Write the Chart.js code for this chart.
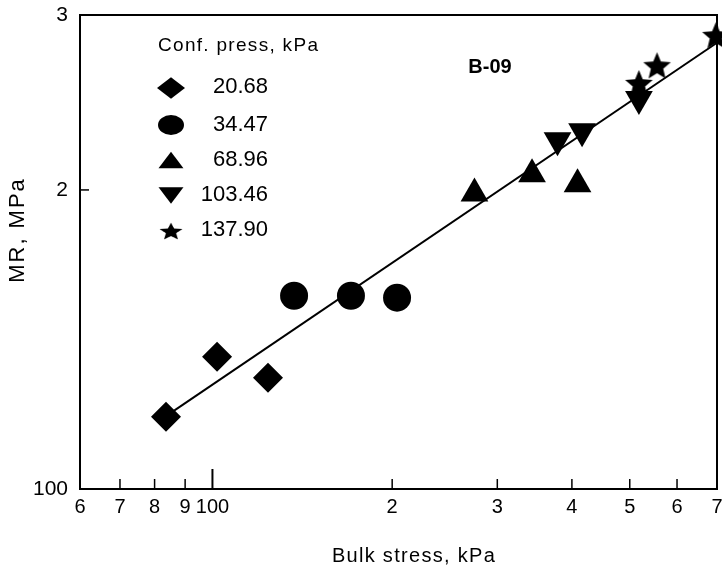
<!DOCTYPE html>
<html>
<head>
<meta charset="utf-8">
<title>MR vs bulk stress, B-09</title>
<script src="https://cdn.jsdelivr.net/npm/chart.js@4.4.1/dist/chart.umd.min.js"></script>
<style>
  html, body { margin: 0; padding: 0; background: #fff; }
  #wrap { width: 722px; height: 565px; }
</style>
</head>
<body>
<div id="wrap"><canvas id="mrChart" width="722" height="565"></canvas></div>
<script>
// confining pressure groups, kPa
var confPressures = ['20.68', '34.47', '68.96', '103.46', '137.90'];

// bulk stress (kPa) and resilient modulus (MPa) for each group
var bulk1 = [83.6, 101.8, 123.9];
var mr1 = [118.2, 135.9, 129.4];
var bulk2 = [137.0, 170.6, 203.8];
var mr2 = [156.5, 156.5, 155.8];
var bulk3 = [274.7, 343.0, 408.8];
var mr3 = [198.4, 207.4, 202.6];
var bulk4 = [378.4, 416.0, 518.0];
var mr4 = [224.4, 229.2, 246.9];
var bulk5 = [518.0, 555.5, 697.0];
var mr5 = [255.4, 266.1, 285.4];

// power-law fit, end points
var fitBulk = [83.6, 700];
var fitMR = [118.4, 281.3];

// axis ticks and their printed labels
var xTicks = [60, 70, 80, 90, 100, 200, 300, 400, 500, 600, 700];
var xTickLabels = ['6', '7', '8', '9', '100', '2', '3', '4', '5', '6', '7'];
var yTicks = [100, 200, 300];
var yTickLabels = ['100', '2', '3'];

function pts(xs, ys) {
  return xs.map(function (v, i) { return { x: v, y: ys[i] }; });
}

// filled five-point star used as a point image
function makeStar(R, inner) {
  var c = document.createElement('canvas');
  var s = Math.ceil(R * 2) + 2;
  c.width = s; c.height = s;
  var g = c.getContext('2d');
  g.fillStyle = '#000';
  g.beginPath();
  for (var i = 0; i < 10; i++) {
    var r = i % 2 ? inner : R;
    var a = -Math.PI / 2 + i * Math.PI / 5;
    g.lineTo(s / 2 + r * Math.cos(a), s / 2 + r * Math.sin(a));
  }
  g.closePath();
  g.fill();
  return c;
}
var star = makeStar(14.5, 6.5);

var FONT = '"Liberation Sans", Arial, sans-serif';

var markers = [
  { style: 'rectRot', radius: 15, rotation: 0, legendR: 14, dy: 0 },
  { style: 'circle', radius: 14, rotation: 0, legendR: 13, dy: 0 },
  { style: 'triangle', radius: 16, rotation: 0, legendR: 14.4, dy: 2.8 },
  { style: 'triangle', radius: 16, rotation: 180, legendR: 14.4, dy: -2.8 },
  { style: star, radius: 14.5, rotation: 0, legendR: 12, dy: 0.9 }
];
var groups = [pts(bulk1, mr1), pts(bulk2, mr2), pts(bulk3, mr3), pts(bulk4, mr4), pts(bulk5, mr5)];

var datasets = groups.map(function (g, i) {
  var m = markers[i];
  return {
    label: confPressures[i],
    data: g,
    pointStyle: m.style,
    radius: m.radius,
    rotation: m.rotation,
    backgroundColor: '#000',
    borderColor: '#000',
    borderWidth: 0,
    showLine: false,
    clip: false
  };
});
datasets.push({
  label: 'fit',
  data: pts(fitBulk, fitMR),
  showLine: true,
  borderColor: '#000',
  borderWidth: 2,
  pointRadius: 0,
  clip: false
});

function text(ctx, str, x, y, font, align, spacing) {
  ctx.font = font;
  ctx.textAlign = align;
  ctx.textBaseline = 'middle';
  ctx.letterSpacing = (spacing || 0) + 'px';
  ctx.fillText(str, x, y);
  ctx.letterSpacing = '0px';
}

// frame, inward tick marks, legend and titles
var decorations = {
  id: 'decorations',
  afterDraw: function (chart) {
    var ctx = chart.ctx;
    var a = chart.chartArea;
    var xs = chart.scales.x;
    var ys = chart.scales.y;
    ctx.save();
    ctx.strokeStyle = '#000';
    ctx.fillStyle = '#000';
    ctx.lineWidth = 2;
    ctx.strokeRect(a.left, a.top, a.right - a.left, a.bottom - a.top);

    xTicks.forEach(function (v, i) {
      if (i === 0 || i === xTicks.length - 1) return;
      var px = xs.getPixelForValue(v);
      ctx.lineWidth = v === 100 ? 2 : 1.5;
      ctx.beginPath();
      ctx.moveTo(px, a.bottom);
      ctx.lineTo(px, a.bottom - (v === 100 ? 20 : 10));
      ctx.stroke();
    });
    var py = ys.getPixelForValue(200);
    ctx.lineWidth = 1.5;
    ctx.beginPath();
    ctx.moveTo(a.left, py);
    ctx.lineTo(a.left + 9, py);
    ctx.stroke();

    // legend
    text(ctx, 'Conf. press, kPa', 158, 46, '19px ' + FONT, 'left', 1.3);
    var rows = [88, 125, 160, 195.5, 231];
    var labelY = [87, 125, 160, 195, 230];
    markers.forEach(function (m, i) {
      ctx.save();
      ctx.translate(171, rows[i] + m.dy);
      if (m.style === star) {
        ctx.scale(m.legendR / m.radius, 0.77 * m.legendR / m.radius);
      } else {
        ctx.scale(1, 0.77);
      }
      Chart.helpers.drawPoint(ctx, {
        pointStyle: m.style, radius: m.legendR, rotation: m.rotation, borderWidth: 0
      }, 0, 0);
      ctx.restore();
      text(ctx, confPressures[i], 268, labelY[i], '22px ' + FONT, 'right', 0);
    });

    text(ctx, 'B-09', 490, 67, 'bold 20px ' + FONT, 'center', 0);

    // axis titles
    text(ctx, 'Bulk stress, kPa', 414, 556, '20px ' + FONT, 'center', 1.3);
    ctx.save();
    ctx.translate(18, 230);
    ctx.rotate(-Math.PI / 2);
    text(ctx, 'MR, MPa', 0, 0, '22px ' + FONT, 'center', 2);
    ctx.restore();
    ctx.restore();
  }
};

new Chart(document.getElementById('mrChart'), {
  type: 'scatter',
  data: { datasets: datasets },
  options: {
    responsive: false,
    animation: false,
    layout: { autoPadding: false, padding: { top: 15, right: 5, left: 0, bottom: 0 } },
    plugins: {
      legend: { display: false },
      tooltip: { enabled: false }
    },
    scales: {
      x: {
        type: 'logarithmic',
        min: 60,
        max: 700,
        afterBuildTicks: function (s) {
          s.ticks = xTicks.map(function (v) { return { value: v }; });
        },
        afterFit: function (s) {
          s.height = 76;
          s.paddingLeft = 0;
          s.paddingRight = 0;
        },
        grid: { display: false, drawTicks: false },
        border: { display: false },
        ticks: {
          autoSkip: false,
          maxRotation: 0,
          minRotation: 0,
          padding: 6,
          color: '#000',
          font: { family: FONT, size: 20 },
          callback: function (v, i) { return xTickLabels[i]; }
        }
      },
      y: {
        type: 'logarithmic',
        min: 100,
        max: 300,
        afterBuildTicks: function (s) {
          s.ticks = yTicks.map(function (v) { return { value: v }; });
        },
        afterFit: function (s) {
          s.width = 80;
          s.paddingTop = 0;
          s.paddingBottom = 0;
        },
        grid: { display: false, drawTicks: false },
        border: { display: false },
        ticks: {
          autoSkip: false,
          padding: 12,
          color: '#000',
          font: { family: FONT, size: 21 },
          callback: function (v, i) { return yTickLabels[i]; }
        }
      }
    }
  },
  plugins: [decorations]
});
</script>
</body>
</html>
